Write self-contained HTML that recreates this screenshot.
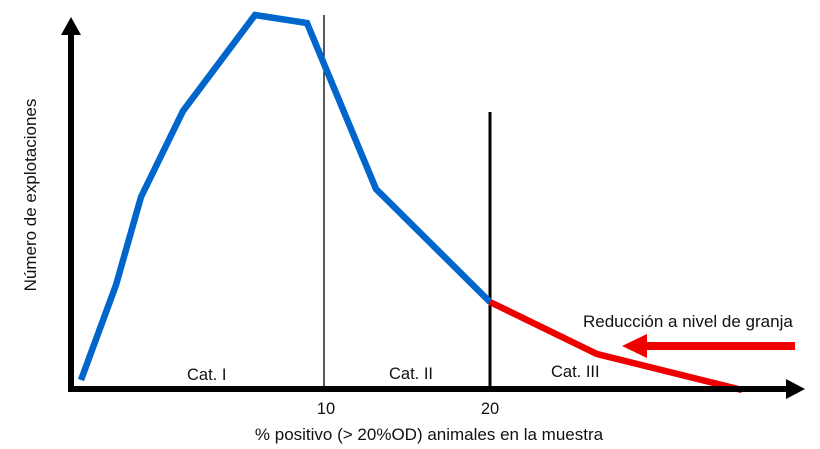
<!DOCTYPE html>
<html><head><style>body{margin:0;background:#fff}svg{display:block}text{font-family:"Liberation Sans",sans-serif;fill:#111}</style></head>
<body>
<svg width="820" height="449" viewBox="0 0 820 449" xmlns="http://www.w3.org/2000/svg">
<line x1="324" y1="15" x2="324" y2="389" stroke="#000" stroke-width="1.3"/>
<line x1="490" y1="112" x2="490" y2="389" stroke="#000" stroke-width="3"/>
<polyline points="81,380 116,285 141,197 183,111 255,15 307,23 376,189 490,302" fill="none" stroke="#0066cc" stroke-width="6.5" stroke-linejoin="miter"/>
<polyline points="490,302 597,354 742,390" fill="none" stroke="#ee0000" stroke-width="6.5"/>
<line x1="71" y1="392" x2="71" y2="32" stroke="#000" stroke-width="6"/>
<polygon points="71,17 61,35 81,35" fill="#000"/>
<line x1="68" y1="389" x2="790" y2="389" stroke="#000" stroke-width="6"/>
<polygon points="805,389 786,379 786,399" fill="#000"/>
<line x1="645" y1="346" x2="795" y2="346" stroke="#ee0000" stroke-width="8"/>
<polygon points="622,346 647,334 647,358" fill="#ee0000"/>
<text x="187" y="380" font-size="16.5">Cat. I</text>
<text x="389" y="379" font-size="16.5">Cat. II</text>
<text x="551" y="377" font-size="16.5">Cat. III</text>
<text x="326" y="414" font-size="16.5" text-anchor="middle">10</text>
<text x="490" y="414" font-size="16.5" text-anchor="middle">20</text>
<text x="429" y="440" font-size="17" text-anchor="middle">% positivo (&gt; 20%OD) animales en la muestra</text>
<text x="583" y="327" font-size="17">Reducción a nivel de granja</text>
<text transform="translate(36,195) rotate(-90)" font-size="17" text-anchor="middle">Número de explotaciones</text>
</svg>
</body></html>
